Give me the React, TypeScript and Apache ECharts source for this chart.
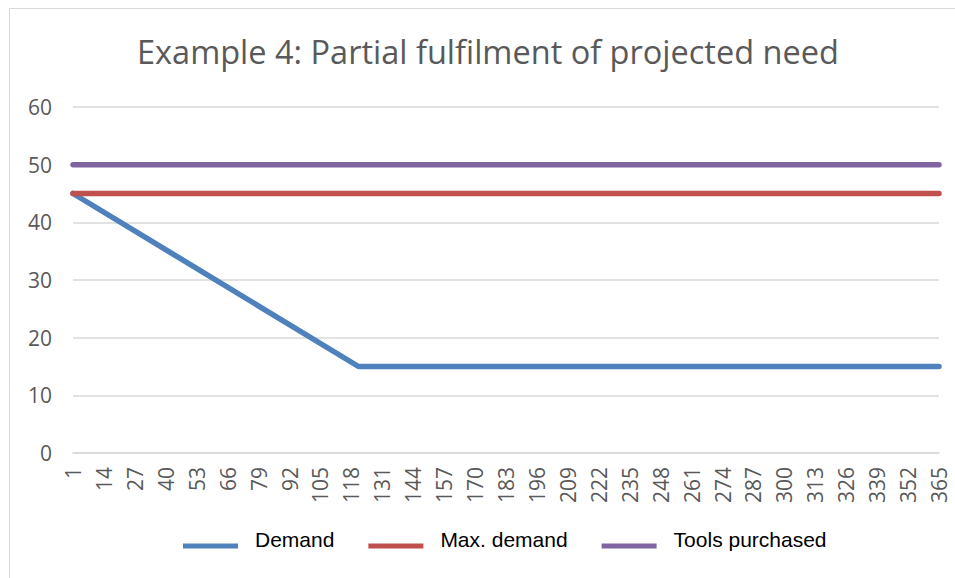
import React, { useEffect, useRef } from "react";
import * as echarts from "echarts";

const TITLE = "Example 4: Partial fulfilment of projected need";
const days: string[] = Array.from({ length: 365 }, (_, i) => String(i + 1));
const seriesNames = ["Demand", "Max. demand", "Tools purchased"];
const demandPoints: [string, number][] = [["1", 45], ["121", 15], ["365", 15]];
const maxDemandPoints: [string, number][] = [["1", 45], ["365", 45]];
const toolsPoints: [string, number][] = [["1", 50], ["365", 50]];
const colors = ["#4f81bd", "#c0504d", "#8064a2"];
const yMin = 0;
const yMax = 60;
const yStep = 10;

export default function App() {
  const ref = useRef<HTMLDivElement>(null);
  useEffect(() => {
    if (!ref.current) return;
    const chart = echarts.init(ref.current, undefined, { renderer: "svg" });
    const font = "'Open Sans', 'Noto Sans', sans-serif";
    const legendFont = "'Liberation Sans', Arial, sans-serif";
    const datas = [demandPoints, maxDemandPoints, toolsPoints];
    chart.setOption({
      animation: false,
      backgroundColor: "#ffffff",
      graphic: [
        {
          type: "rect",
          shape: { x: 9.5, y: 8.5, width: 1000, height: 1000 },
          style: { fill: "none", stroke: "#d9d9d9", lineWidth: 1 },
          silent: true,
          z: -1,
        },
      ],
      title: {
        text: TITLE,
        left: 132,
        top: 30,
        textStyle: {
          fontFamily: font,
          fontSize: 32.5,
          fontWeight: "normal",
          color: "#595959",
        },
      },
      legend: {
        data: seriesNames,
        left: 178,
        top: 524,
        icon: "rect",
        itemWidth: 55,
        itemHeight: 5,
        itemGap: 34,
        formatter: "{t|{name}}",
        textStyle: {
          fontFamily: legendFont,
          fontSize: 21,
          color: "#000000",
          rich: {
            t: {
              fontFamily: legendFont,
              fontSize: 21,
              color: "#000000",
              padding: [0, 0, 13, 12],
            },
          },
        },
      },
      grid: { left: 73, right: 16, top: 107, bottom: 125 },
      xAxis: {
        type: "category",
        data: days,
        boundaryGap: false,
        axisLine: { lineStyle: { color: "#d9d9d9", width: 1.5 } },
        axisTick: { show: false },
        axisLabel: {
          interval: 12,
          rotate: 90,
          margin: 14,
          fontFamily: font,
          fontSize: 21,
          color: "#595959",
        },
      },
      yAxis: {
        type: "value",
        min: yMin,
        max: yMax,
        interval: yStep,
        axisLine: { show: false },
        axisTick: { show: false },
        splitLine: { lineStyle: { color: "#d9d9d9", width: 1.5 } },
        axisLabel: {
          margin: 21,
          fontFamily: font,
          fontSize: 21,
          color: "#595959",
        },
      },
      series: seriesNames.map((name, i) => ({
        name,
        type: "line",
        data: datas[i],
        symbol: "none",
        color: colors[i],
        lineStyle: { width: 5.5, color: colors[i], cap: "round", join: "round" },
      })),
    });
    return () => chart.dispose();
  }, []);
  return (
    <div
      ref={ref}
      style={{ position: "fixed", left: 0, top: 0, width: 955, height: 578 }}
    />
  );
}
